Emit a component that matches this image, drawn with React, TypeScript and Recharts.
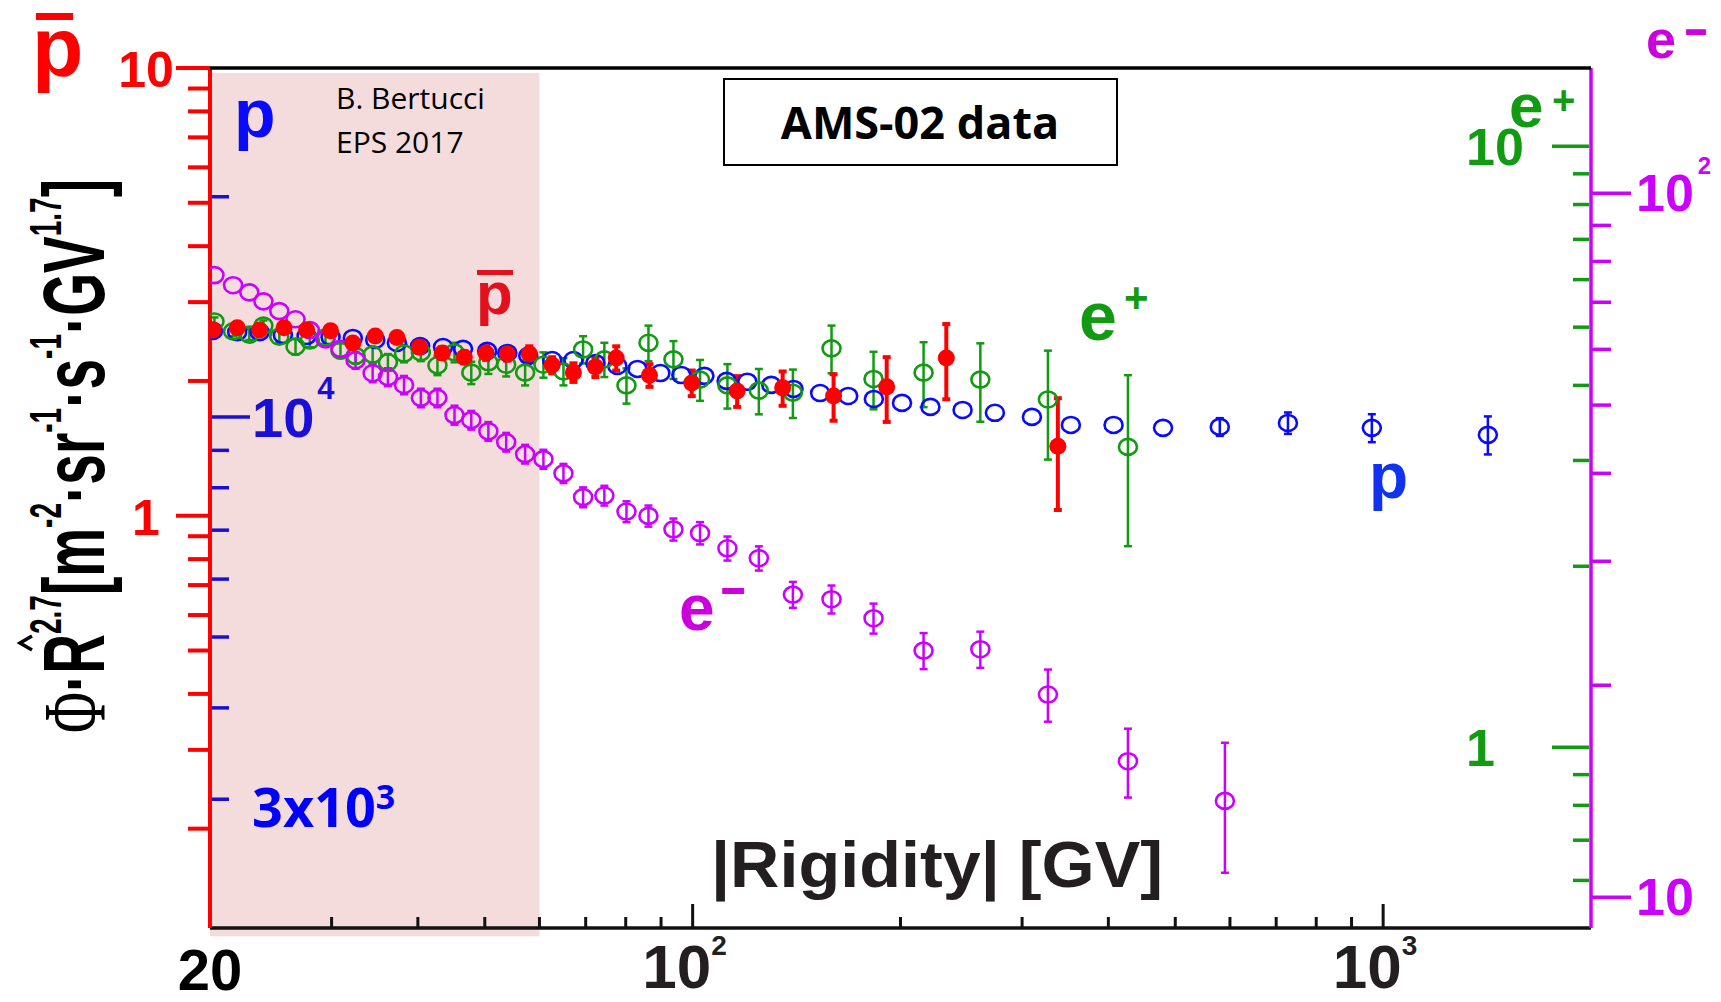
import React from 'react';
import { ComposedChart, Scatter, XAxis, YAxis, ErrorBar, ReferenceArea } from 'recharts';

const SANS = "'Liberation Sans', Arial, Helvetica, sans-serif";
const CAL = "'Open Sans', 'Liberation Sans', sans-serif";
const SERIF = "'Liberation Serif', 'Times New Roman', serif";

const RED = '#ff0000';
const PBAR_LABEL = '#e3101e';
const BLUE = '#0a0aff';
const BLUE_AXIS = '#1a0fd6';
const GREEN = '#129a12';
const MAGENTA = '#cc00ff';
const EM_LABEL = '#cc00dd';

// ---- protons (p) : flux x R^2.7, blue axis
const protonR = [20.2, 21.9, 23.6, 25.5, 27.6, 29.9, 32.2, 34.7, 37.3, 40.3, 43.5, 46.5, 50.4, 53.9, 57.8, 62.6, 67.2, 72.3, 77.8, 83.2, 89.8, 96.3, 104, 112, 120, 130, 140, 153, 168, 183, 201, 221, 246, 274, 310, 353, 407, 480, 580, 728, 963, 1418];
const protonFlux = [13110, 13060, 13060, 12940, 12900, 12860, 12820, 12740, 12620, 12500, 12460, 12390, 12310, 12230, 12120, 11960, 11960, 11850, 11740, 11630, 11480, 11410, 11380, 11200, 11170, 11060, 10920, 10780, 10680, 10580, 10450, 10320, 10220, 10130, 10000, 9750, 9750, 9660, 9690, 9810, 9660, 9450];
// errors hidden inside the markers are left out (null)
const protonErr = [null, null, null, null, null, null, null, null, null, null, null, null, null, null, null, null, null, null, null, null, null, null, null, null, null, null, null, null, null, null, null, null, null, null, null, null, null, null, 270, 330, 425, 565];

// ---- antiprotons (p-bar) : red axis
const pbarR = [20.2, 21.9, 23.6, 25.6, 27.6, 29.9, 32.2, 34.7, 37.3, 40.2, 43.4, 46.7, 50.2, 53.9, 58.0, 62.6, 67.2, 72.3, 77.5, 86.6, 99.7, 116, 135, 160, 191, 233, 338];
const pbarFlux = [2.60, 2.63, 2.60, 2.63, 2.60, 2.59, 2.43, 2.52, 2.50, 2.38, 2.31, 2.26, 2.31, 2.30, 2.30, 2.17, 2.09, 2.15, 2.25, 2.06, 1.98, 1.90, 1.93, 1.85, 1.94, 2.25, 1.43];
const pbarErr = [0.05, 0.05, 0.05, 0.05, 0.05, 0.05, 0.05, 0.06, 0.06, 0.07, 0.07, 0.07, 0.08, 0.08, 0.09, 0.09, 0.10, 0.11, 0.14, 0.12, 0.13, 0.15, 0.17, 0.22, 0.32, 0.43, 0.40];

// ---- leptons share the rigidity bins
const leptonR = [20.3, 21.6, 22.8, 23.9, 25.2, 26.6, 27.9, 29.4, 30.9, 32.5, 34.4, 36.2, 38.2, 40.4, 42.7, 45.2, 47.8, 50.6, 53.7, 57.2, 60.8, 65.0, 69.4, 74.5, 80.2, 86.3, 93.8, 102.5, 112.3, 124.7, 139.7, 158.9, 182.8, 216, 261, 327, 427, 590];
const positronFlux = [5.11, 4.92, 4.86, 5.03, 4.82, 4.64, 4.75, 4.81, 4.57, 4.48, 4.50, 4.37, 4.52, 4.54, 4.32, 4.54, 4.20, 4.37, 4.33, 4.20, 4.33, 4.22, 4.59, 4.42, 4.00, 4.71, 4.42, 4.09, 4.00, 3.92, 3.89, 4.61, 4.10, 4.20, 4.09, 3.79, 3.16];
const positronErr = [0.08, 0.09, 0.10, 0.10, 0.11, 0.14, 0.12, 0.12, 0.13, 0.13, 0.14, 0.14, 0.15, 0.15, 0.16, 0.17, 0.18, 0.19, 0.19, 0.20, 0.21, 0.22, 0.24, 0.29, 0.27, 0.32, 0.32, 0.32, 0.34, 0.34, 0.36, 0.42, 0.45, 0.52, 0.61, 0.78, 1.0];
const electronFlux = [76.5, 74.0, 72.3, 70.2, 68.0, 66.2, 63.9, 62.0, 60.1, 57.9, 55.5, 54.8, 53.4, 51.2, 51.2, 48.4, 47.6, 45.9, 44.3, 42.6, 41.9, 40.0, 37.0, 37.2, 35.3, 34.8, 33.3, 32.9, 31.3, 30.3, 26.9, 26.5, 24.9, 22.4, 22.5, 19.4, 15.6, 13.7];
const electronErr = [null, null, null, null, null, null, null, null, null, 1.6, 1.6, 1.6, 1.6, 1.55, 1.55, 1.5, 1.45, 1.4, 1.35, 1.3, 1.3, 1.25, 1.2, 1.2, 1.2, 1.2, 1.2, 1.2, 1.23, 1.2, 1.14, 1.21, 1.22, 1.32, 1.33, 1.65, 1.75, 2.87];

// ---- axes
const xDomain = [20, 2000];
const xTicks = [20, 30, 40, 50, 60, 70, 80, 90, 100, 200, 300, 400, 500, 600, 700, 800, 900, 1000];
const xTickLabels: Record<number, [string, string]> = { 20: ['20', ''], 100: ['10', '2'], 1000: ['10', '3'] };
const pbarDomain = [0.12, 10];
const pbarTicks = [0.2, 0.3, 0.4, 0.5, 0.6, 0.7, 0.8, 0.9, 1, 2, 3, 4, 5, 6, 7, 8, 9, 10];
const pbarTickLabels: Record<number, string> = { 1: '1', 10: '10' };
const protonDomain = [2000, 30000];
const protonTicks = [3000, 4000, 5000, 6000, 7000, 8000, 9000, 10000, 20000];
const protonTickLabels: Record<number, [string, string]> = { 3000: ['3x10', '3'], 10000: ['10', '4'] };
const positronDomain = [0.5, 13.5];
const positronTicks = [0.6, 0.7, 0.8, 0.9, 1, 2, 3, 4, 5, 6, 7, 8, 9, 10];
const positronTickLabels: Record<number, string> = { 1: '1', 10: '10' };
const electronDomain = [9.04, 150.6];
const electronTicks = [10, 20, 30, 40, 50, 60, 70, 80, 90, 100];
const electronTickLabels: Record<number, [string, string]> = { 10: ['10', ''], 100: ['10', '2'] };
const shadeRange = [20, 60];

const protonData = protonR.map((x, i) => ({ x, y: protonFlux[i], err: protonErr[i] }));
const pbarData = pbarR.map((x, i) => ({ x, y: pbarFlux[i], err: pbarErr[i] }));
const positronData = positronFlux.map((y, i) => ({ x: leptonR[i], y, err: positronErr[i] }));
const electronData = electronFlux.map((y, i) => ({ x: leptonR[i], y, err: electronErr[i] }));

const XTick = (props: any) => {
  const { x, y, payload } = props;
  const v = payload.value;
  const major = v === 100 || v === 1000;
  const lab = xTickLabels[v];
  return (
    <g>
      {v !== 20 && <line x1={x} y1={y} x2={x} y2={y - (major ? 24 : 11)} stroke="#111" strokeWidth={3} />}
      {lab && v === 20 && (
        <text x={x} y={y + 62} textAnchor="middle" fontFamily={SANS} fontWeight="bold" fontSize={58} fill="#000">{lab[0]}</text>
      )}
      {lab && v !== 20 && (
        <text x={x - 8} y={y + 60} textAnchor="middle" fontFamily={SANS} fontWeight="bold" fontSize={62} fill="#231f20">
          {lab[0]}
          <tspan fontSize={28} dy={-33}>{lab[1]}</tspan>
        </text>
      )}
    </g>
  );
};

const PbarTick = (props: any) => {
  const { x, y, payload } = props;
  const v = payload.value;
  const lab = pbarTickLabels[v];
  return (
    <g>
      <line x1={x} y1={y} x2={x - (lab ? 34 : 22)} y2={y} stroke={RED} strokeWidth={4} />
      {lab && (
        <text x={x - 64} y={y + 19} textAnchor="middle" fontFamily={SANS} fontWeight="bold" fontSize={50} fill={RED}>{lab}</text>
      )}
    </g>
  );
};

const ProtonTick = (props: any) => {
  const { x, y, payload } = props;
  const v = payload.value;
  const lab = protonTickLabels[v];
  return (
    <g>
      <line x1={x + 2} y1={y} x2={x + (v === 10000 ? 40 : 19)} y2={y} stroke={BLUE_AXIS} strokeWidth={3.5} />
      {lab && v === 10000 && (
        <text x={x + 42} y={y + 20} fontFamily={SANS} fontWeight="bold" fontSize={56} fill={BLUE_AXIS}>
          {lab[0]}
          <tspan fontSize={31} dy={-38} dx={3}>{lab[1]}</tspan>
        </text>
      )}
      {lab && v === 3000 && (
        <text x={x + 42} y={y + 28} fontFamily={CAL} fontWeight="bold" fontSize={54} fill="#0000ff">
          {lab[0]}
          <tspan fontSize={34} dy={-18}>{lab[1]}</tspan>
        </text>
      )}
    </g>
  );
};

const PositronTick = (props: any) => {
  const { x, y, payload } = props;
  const v = payload.value;
  const lab = positronTickLabels[v];
  return (
    <g>
      <line x1={x - 2} y1={y} x2={x - (lab ? 39 : 18)} y2={y} stroke={GREEN} strokeWidth={3.5} />
      {lab && (
        <text x={x - 125} y={y + 19} fontFamily={SANS} fontWeight="bold" fontSize={52} fill={GREEN}>{lab}</text>
      )}
    </g>
  );
};

const ElectronTick = (props: any) => {
  const { x, y, payload } = props;
  const v = payload.value;
  const lab = electronTickLabels[v];
  return (
    <g>
      <line x1={x} y1={y} x2={x + (lab ? 40 : 20)} y2={y} stroke={MAGENTA} strokeWidth={3.5} />
      {lab && (
        <text x={x + 45} y={y + 18} fontFamily={SANS} fontWeight="bold" fontSize={52} fill={MAGENTA}>
          {lab[0]}
          {lab[1] && <tspan fontSize={24} dy={-37} dx={4}>{lab[1]}</tspan>}
        </text>
      )}
    </g>
  );
};

const openMarker = (color: string) => (props: any) => (
  <ellipse cx={props.cx} cy={props.cy} rx={9} ry={8} fill="none" stroke={color} strokeWidth={2.6} />
);
const filledMarker = (color: string) => (props: any) => (
  <circle cx={props.cx} cy={props.cy} r={8.5} fill={color} stroke="none" />
);

const W = 1721;
const H = 1002;

export default function App() {
  return (
    <div style={{ position: 'absolute', left: 0, top: 0, width: W, height: H, background: '#fff' }}>
      <ComposedChart width={W} height={H} margin={{ top: 68, right: 10, bottom: 4, left: 90 }}>
        <XAxis xAxisId="x" dataKey="x" type="number" scale="log" domain={xDomain} allowDataOverflow ticks={xTicks} interval={0}
          tick={XTick} tickSize={0} tickMargin={0} tickLine={false} height={70} axisLine={{ stroke: '#111', strokeWidth: 3.5 }} />
        <YAxis yAxisId="pbar" orientation="left" dataKey="y" type="number" scale="log" domain={pbarDomain} allowDataOverflow
          ticks={pbarTicks} interval={0} tick={PbarTick} tickSize={0} tickMargin={0} tickLine={false} width={120}
          axisLine={{ stroke: RED, strokeWidth: 4 }} />
        <YAxis yAxisId="p" orientation="left" mirror dataKey="y" type="number" scale="log" domain={protonDomain} allowDataOverflow
          ticks={protonTicks} interval={0} tick={ProtonTick} tickSize={0} tickMargin={0} tickLine={false} width={1} axisLine={false} />
        <YAxis yAxisId="ep" orientation="right" mirror dataKey="y" type="number" scale="log" domain={positronDomain} allowDataOverflow
          ticks={positronTicks} interval={0} tick={PositronTick} tickSize={0} tickMargin={0} tickLine={false} width={1} axisLine={false} />
        <YAxis yAxisId="em" orientation="right" dataKey="y" type="number" scale="log" domain={electronDomain} allowDataOverflow
          ticks={electronTicks} interval={0} tick={ElectronTick} tickSize={0} tickMargin={0} tickLine={false} width={120}
          axisLine={{ stroke: MAGENTA, strokeWidth: 3.5 }} />
        <ReferenceArea xAxisId="x" yAxisId="pbar" x1={shadeRange[0]} x2={shadeRange[1]} y1={0.115} y2={9.74}
          fill="#f4dcdc" fillOpacity={1} stroke="none" ifOverflow="visible" />
        <Scatter name="p" data={protonData} dataKey="y" xAxisId="x" yAxisId="p" shape={openMarker(BLUE)} isAnimationActive={false}>
          <ErrorBar dataKey="err" direction="y" width={4} stroke={BLUE} strokeWidth={2.5} />
        </Scatter>
        <Scatter name="e+" data={positronData} dataKey="y" xAxisId="x" yAxisId="ep" shape={openMarker(GREEN)} isAnimationActive={false}>
          <ErrorBar dataKey="err" direction="y" width={4} stroke={GREEN} strokeWidth={2.5} />
        </Scatter>
        <Scatter name="e-" data={electronData} dataKey="y" xAxisId="x" yAxisId="em" shape={openMarker(MAGENTA)} isAnimationActive={false}>
          <ErrorBar dataKey="err" direction="y" width={4} stroke={MAGENTA} strokeWidth={2.5} />
        </Scatter>
        <Scatter name="pbar" data={pbarData} dataKey="y" xAxisId="x" yAxisId="pbar" shape={filledMarker(RED)} isAnimationActive={false}>
          <ErrorBar dataKey="err" direction="y" width={4} stroke={RED} strokeWidth={4} />
        </Scatter>
      </ComposedChart>

      <svg width={W} height={H} style={{ position: 'absolute', left: 0, top: 0, pointerEvents: 'none' }}>
        {/* frame: top border */}
        <line x1={210} y1={68} x2={1591} y2={68} stroke="#000" strokeWidth={3.5} />
        {/* top-left p-bar */}
        <rect x={36} y={13} width={37} height={7} fill={RED} />
        <text x={32} y={76} fontFamily={SANS} fontWeight="bold" fontSize={84} fill={RED}>p</text>
        {/* p label */}
        <text x={234} y={137} fontFamily={SANS} fontWeight="bold" fontSize={68} fill={BLUE}>p</text>
        <text x={336} y={109} fontFamily={CAL} fontSize={30} fill="#000">B. Bertucci</text>
        <text x={336} y={153} fontFamily={CAL} fontSize={30} fill="#000">EPS 2017</text>
        {/* AMS box */}
        <rect x={724} y={79} width={393} height={86} fill="#fff" stroke="#000" strokeWidth={2} />
        <text x={920} y={139} textAnchor="middle" fontFamily={CAL} fontWeight="bold" fontSize={45} fill="#000">AMS-02 data</text>
        {/* middle p-bar */}
        <rect x={477} y={270} width={36} height={5} fill={PBAR_LABEL} />
        <text x={476} y={314} fontFamily={SANS} fontWeight="bold" fontSize={60} fill={PBAR_LABEL}>p</text>
        {/* e+ middle */}
        <text x={1079} y={340} fontFamily={SANS} fontWeight="bold" fontSize={68} fill={GREEN}>e</text>
        <text x={1124} y={312} fontFamily={SANS} fontWeight="bold" fontSize={42} fill={GREEN}>+</text>
        {/* e- middle */}
        <text x={679} y={630} fontFamily={SANS} fontWeight="bold" fontSize={64} fill={EM_LABEL}>e</text>
        <text x={722} y={602} fontFamily={SANS} fontWeight="bold" fontSize={40} fill={EM_LABEL} stroke={EM_LABEL} strokeWidth={2}>–</text>
        {/* p lower */}
        <text x={1369} y={498} fontFamily={SANS} fontWeight="bold" fontSize={64} fill="#1133ee">p</text>
        {/* e+ top right */}
        <text x={1509} y={127} fontFamily={SANS} fontWeight="bold" fontSize={62} fill={GREEN}>e</text>
        <text x={1552} y={114} fontFamily={SANS} fontWeight="bold" fontSize={40} fill={GREEN}>+</text>
        {/* e- top right */}
        <text x={1646} y={58} fontFamily={SANS} fontWeight="bold" fontSize={54} fill={EM_LABEL}>e</text>
        <text x={1686} y={42} fontFamily={SANS} fontWeight="bold" fontSize={36} fill={EM_LABEL} stroke={EM_LABEL} strokeWidth={2}>–</text>
        {/* x title */}
        <text x={711} y={887} fontFamily={SANS} fontWeight="bold" fontSize={64} fill="#231f20" textLength={452} lengthAdjust="spacingAndGlyphs">|Rigidity| [GV]</text>
        {/* y title */}
        <text transform="translate(104,733) rotate(-90) scale(1,1.6)" fontFamily={SANS} fontWeight="bold" fontSize={55} fill="#000">
          <tspan fontFamily={SERIF} fontWeight="normal" fontSize={56}>Φ</tspan>
          <tspan>·R</tspan>
          <tspan fontSize={28} dy={-27}>2.7</tspan>
          <tspan dy={27}>[m</tspan>
          <tspan fontSize={28} dy={-27}>-2</tspan>
          <tspan dy={27}>·sr</tspan>
          <tspan fontSize={28} dy={-27}>-1</tspan>
          <tspan dy={27}>·s</tspan>
          <tspan fontSize={28} dy={-27}>-1</tspan>
          <tspan dy={27}>·GV</tspan>
          <tspan fontSize={28} dy={-27}>1.7</tspan>
          <tspan dy={27}>]</tspan>
        </text>
        <polyline points="32,636 20,643 32,650" fill="none" stroke="#000" strokeWidth={3.5} />
      </svg>
    </div>
  );
}
